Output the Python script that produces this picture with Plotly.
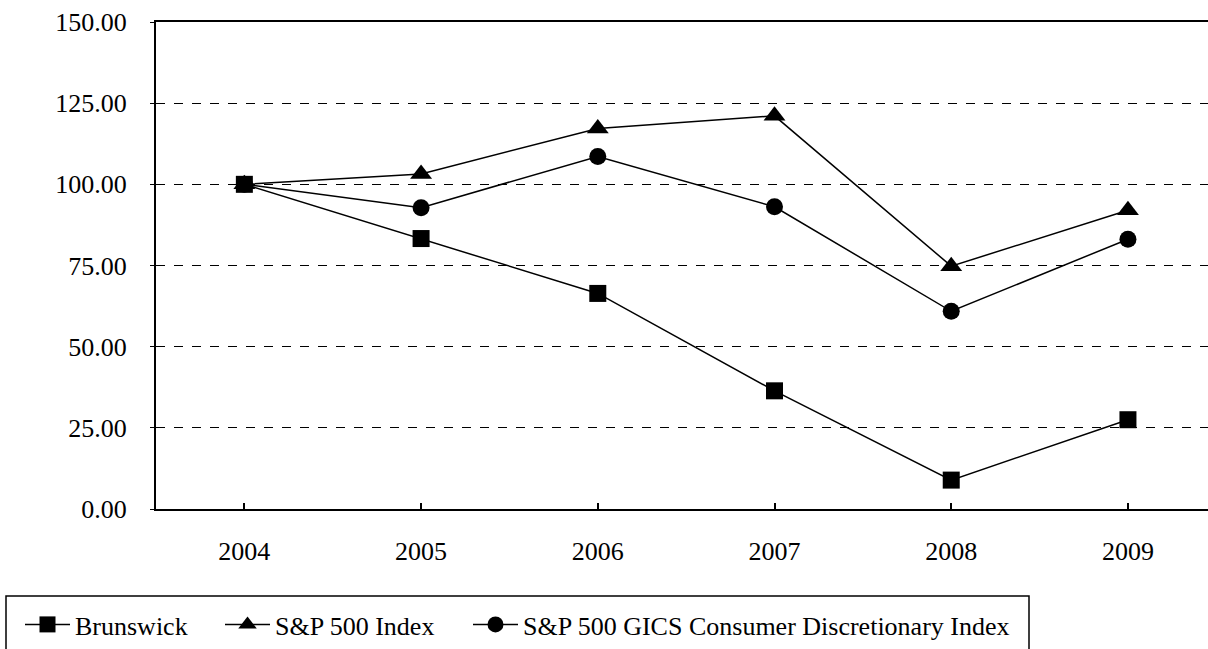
import plotly.graph_objects as go

years = ["2004", "2005", "2006", "2007", "2008", "2009"]
brunswick = [100.0, 83.3, 66.4, 36.4, 8.9, 27.5]
sp500 = [100.0, 103.2, 117.2, 121.1, 74.8, 92.0]
consumer_disc = [100.0, 92.8, 108.6, 93.1, 60.9, 83.1]
names = ["Brunswick", "S&P 500 Index", "S&P 500 GICS Consumer Discretionary Index"]
y_ticks = [0, 25, 50, 75, 100, 125, 150]

FONT = "Liberation Serif"
FS = 26
W, H = 1208, 649
ML, MT, MB = 156, 22, 140
PW, PH = W - ML, H - MT - MB

fig = go.Figure()
series = [(brunswick, "square"), (sp500, "triangle-up"), (consumer_disc, "circle")]
legend_ids = ["legend", "legend2", "legend3"]
legend_x = [20, 220, 468]
for (vals, sym), nm, lid in zip(series, names, legend_ids):
    fig.add_trace(go.Scatter(
        x=years, y=vals, name=nm, mode="lines+markers", legend=lid,
        line=dict(color="black", width=1.5),
        marker=dict(symbol=sym, size=17 if sym != "triangle-up" else 19, color="black"),
    ))

legend_common = dict(
    orientation="h", xref="container", yref="container",
    xanchor="left", yanchor="top", y=1 - 601 / H,
    borderwidth=0, bgcolor="rgba(0,0,0,0)",
    font=dict(family=FONT, size=FS, color="black"),
    itemwidth=45,
)
layout_legends = {lid: dict(legend_common, x=lx / W) for lid, lx in zip(legend_ids, legend_x)}

fig.update_layout(
    width=W, height=H,
    margin=dict(l=ML, r=0, t=MT, b=MB, autoexpand=False),
    plot_bgcolor="white", paper_bgcolor="white",
    font=dict(family=FONT, size=FS, color="black"),
    showlegend=True,
    **layout_legends,
)

# legend frame
fig.add_shape(
    type="rect", xref="paper", yref="paper",
    x0=(6 - ML) / PW, x1=(1029 - ML) / PW,
    y0=(MT + PH - 596) / PH, y1=(MT + PH - 665) / PH,
    line=dict(color="black", width=1.5), fillcolor="rgba(0,0,0,0)", layer="above",
)

fig.update_xaxes(
    type="category", range=[-0.5, 5.453],
    showline=True, linecolor="black", linewidth=2, mirror=True,
    ticks="inside", ticklen=6, tickcolor="black", tickwidth=1.5,
    showgrid=False, ticklabelstandoff=18, automargin=False,
    tickfont=dict(family=FONT, size=FS, color="black"),
)
fig.update_yaxes(
    range=[0, 150], tickvals=y_ticks, tickformat=".2f",
    showline=True, linecolor="black", linewidth=2,
    ticks="outside", ticklen=4, tickcolor="black", tickwidth=1,
    showgrid=True, gridcolor="black", gridwidth=1, griddash="dash",
    zeroline=False, ticklabelstandoff=18, automargin=False,
    tickfont=dict(family=FONT, size=FS, color="black"),
)

fig.write_html(
    "out.html",
    config={"displayModeBar": False},
    post_script="document.body.style.margin='0';document.body.style.overflow='hidden';",
)
